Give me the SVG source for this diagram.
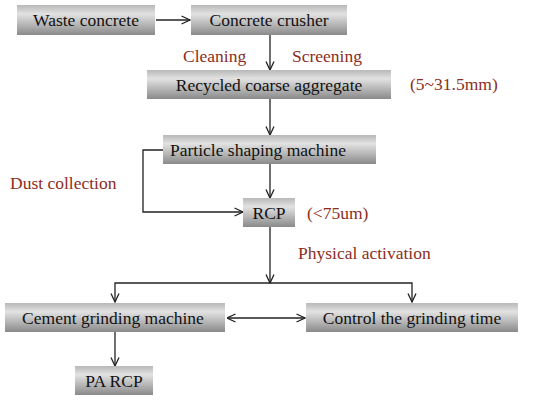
<svg xmlns="http://www.w3.org/2000/svg" width="550" height="400" viewBox="0 0 550 400">
<defs>
<linearGradient id="g" x1="0" y1="0" x2="0" y2="1">
<stop offset="0" stop-color="#b8b8b8"/>
<stop offset="0.3" stop-color="#e2e2e2"/>
<stop offset="1" stop-color="#8a8a8a"/>
</linearGradient>
<marker id="a" viewBox="0 0 10 10" refX="9.5" refY="5" markerWidth="10" markerHeight="10" markerUnits="userSpaceOnUse" orient="auto-start-reverse">
<path d="M1,1 L9.5,5 L1,9" fill="none" stroke="#222" stroke-width="1.3"/>
</marker>
<style>
.box{fill:url(#g);}
.t{font-family:"Liberation Serif",serif;font-size:17.5px;fill:#111;text-anchor:middle;}
.l{font-family:"Liberation Serif",serif;font-size:17.5px;fill:#8b2e1e;}
.c{fill:none;stroke:#222;stroke-width:1.3;}
</style>
</defs>
<rect width="550" height="400" fill="#fff"/>
<g id="connectors">
<line class="c" x1="156" y1="20" x2="190" y2="20" marker-end="url(#a)"/>
<line class="c" x1="270" y1="35" x2="270" y2="70" marker-end="url(#a)"/>
<line class="c" x1="270" y1="99" x2="270" y2="135" marker-end="url(#a)"/>
<line class="c" x1="270" y1="164" x2="270" y2="198" marker-end="url(#a)"/>
<polyline class="c" points="163,150 143,150 143,212 243,212" marker-end="url(#a)"/>
<line class="c" x1="270" y1="227" x2="270" y2="283" marker-end="url(#a)"/>
<polyline class="c" points="115,302 115,283 412,283 412,302" marker-start="url(#a)" marker-end="url(#a)"/>
<line class="c" x1="227" y1="318" x2="305" y2="318" marker-start="url(#a)" marker-end="url(#a)"/>
<line class="c" x1="115" y1="332" x2="115" y2="366" marker-end="url(#a)"/>
</g>
<g id="waste"><rect class="box" x="17" y="5" width="138" height="30"/><text class="t" x="86" y="26">Waste concrete</text></g>
<g id="crusher"><rect class="box" x="191" y="5" width="156" height="30"/><text class="t" x="269" y="26">Concrete crusher</text></g>
<g id="rca"><rect class="box" x="147" y="70" width="244" height="29"/><text class="t" x="269" y="91">Recycled coarse aggregate</text></g>
<g id="shaping"><rect class="box" x="163" y="135" width="213" height="29"/><text class="t" x="258" y="156">Particle shaping machine</text></g>
<g id="rcp"><rect class="box" x="243" y="198" width="52" height="29"/><text class="t" x="269" y="219">RCP</text></g>
<g id="cement"><rect class="box" x="5" y="303" width="220" height="29"/><text class="t" x="113" y="324">Cement grinding machine</text></g>
<g id="control"><rect class="box" x="306" y="303" width="212" height="29"/><text class="t" x="412" y="324">Control the grinding time</text></g>
<g id="parcp"><rect class="box" x="75" y="366" width="78" height="29"/><text class="t" x="114" y="387">PA RCP</text></g>
<g id="labels">
<text class="l" x="183" y="62">Cleaning</text>
<text class="l" x="292" y="62">Screening</text>
<text class="l" x="410" y="90">(5~31.5mm)</text>
<text class="l" x="10" y="189">Dust collection</text>
<text class="l" x="307" y="219">(&lt;75um)</text>
<text class="l" x="298" y="259">Physical activation</text>
</g>
</svg>
